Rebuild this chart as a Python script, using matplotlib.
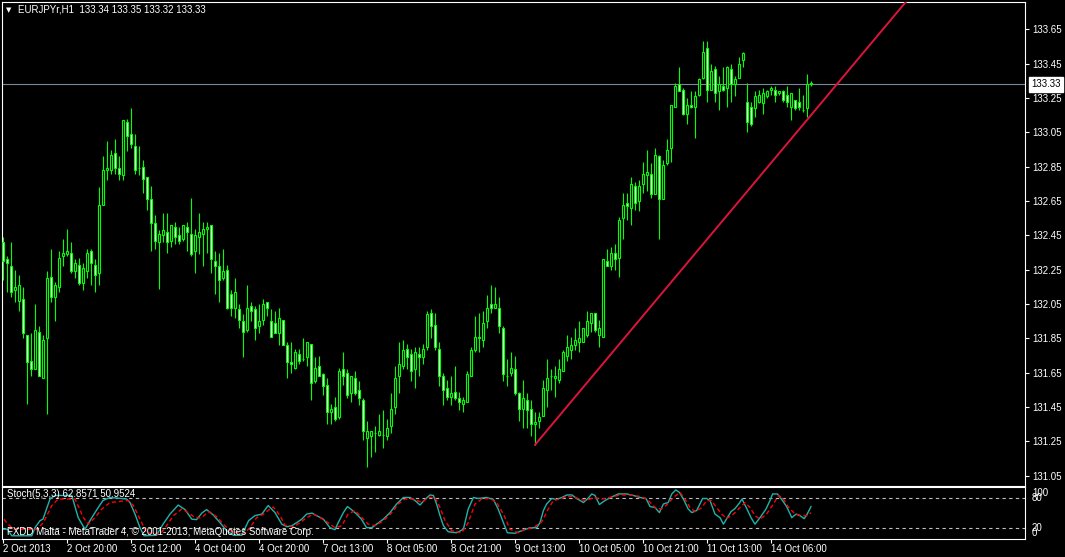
import matplotlib
matplotlib.use("Agg")
import matplotlib.pyplot as plt

plt.rcParams["font.family"] = ["Liberation Sans", "DejaVu Sans"]

# EURJPY H1 candles, 2 Oct 2013 -> 14 Oct 2013 (one row of 10 bars per line)
opens = [
    132.41, 132.31, 132.27, 132.13, 132.07, 132.08, 131.87, 131.72, 131.67, 131.89,
    131.62, 131.85, 132.21, 132.09, 132.15, 132.33, 132.34, 132.35, 132.24, 132.28,
    132.17, 132.24, 132.36, 132.28, 132.23, 132.63, 132.83, 132.83, 132.93, 132.84,
    132.80, 133.11, 133.04, 132.97, 132.84, 132.85, 132.79, 132.66, 132.52, 132.41,
    132.45, 132.47, 132.42, 132.50, 132.45, 132.43, 132.50, 132.46, 132.36, 132.44,
    132.46, 132.49, 132.51, 132.30, 132.27, 132.20, 132.25, 132.11, 132.03, 132.02,
    131.95, 131.90, 132.04, 132.02, 131.92, 131.96, 132.06, 131.95, 131.94, 131.88,
    131.96, 131.81, 131.71, 131.68, 131.76, 131.73, 131.74, 131.82, 131.60, 131.69,
    131.64, 131.58, 131.42, 131.45, 131.39, 131.67, 131.65, 131.53, 131.62, 131.55,
    131.49, 131.27, 131.28, 131.30, 131.29, 131.29, 131.28, 131.34, 131.45, 131.63,
    131.69, 131.79, 131.76, 131.67, 131.76, 131.74, 131.80, 132.00, 131.93, 131.79,
    131.63, 131.56, 131.51, 131.54, 131.50, 131.47, 131.48, 131.63, 131.78, 131.86,
    131.84, 131.95, 132.05, 132.03, 132.03, 131.91, 131.63, 131.65, 131.67, 131.53,
    131.44, 131.49, 131.44, 131.35, 131.37, 131.40, 131.55, 131.63, 131.62, 131.61,
    131.66, 131.75, 131.78, 131.81, 131.83, 131.83, 131.87, 131.94, 132.00, 131.87,
    131.86, 132.30, 132.27, 132.35, 132.32, 132.55, 132.64, 132.61, 132.74, 132.65,
    132.75, 132.80, 132.81, 132.69, 132.91, 132.66, 132.87, 132.96, 133.20, 133.33,
    133.30, 133.16, 133.21, 133.20, 133.27, 133.37, 133.54, 133.30, 133.42, 133.29,
    133.32, 133.31, 133.42, 133.33, 133.37, 133.47, 133.23, 133.20, 133.19, 133.23,
    133.22, 133.26, 133.30, 133.30, 133.28, 133.29, 133.27, 133.20, 133.24, 133.23,
    133.18, 133.19, 133.34,
]
highs = [
    132.44, 132.33, 132.41, 132.25, 132.22, 132.15, 131.87, 131.88, 132.05, 131.92,
    131.87, 132.24, 132.37, 132.18, 132.36, 132.43, 132.49, 132.41, 132.31, 132.32,
    132.29, 132.37, 132.37, 132.31, 132.73, 132.91, 133.00, 132.95, 133.01, 132.91,
    133.12, 133.13, 133.19, 133.04, 132.97, 132.89, 132.79, 132.74, 132.57, 132.48,
    132.58, 132.58, 132.51, 132.53, 132.50, 132.51, 132.53, 132.67, 132.49, 132.58,
    132.53, 132.53, 132.51, 132.36, 132.35, 132.37, 132.28, 132.13, 132.20, 132.05,
    131.99, 132.16, 132.06, 132.04, 132.05, 132.08, 132.06, 132.02, 132.01, 132.03,
    131.96, 131.83, 131.83, 131.79, 131.79, 131.85, 131.83, 131.82, 131.74, 131.75,
    131.65, 131.62, 131.47, 131.51, 131.68, 131.77, 131.67, 131.63, 131.66, 131.60,
    131.50, 131.37, 131.31, 131.34, 131.41, 131.43, 131.38, 131.53, 131.69, 131.83,
    131.84, 131.82, 131.79, 131.80, 131.80, 131.82, 132.01, 132.02, 132.00, 131.83,
    131.65, 131.61, 131.63, 131.69, 131.54, 131.51, 131.66, 131.80, 131.98, 132.00,
    132.01, 132.10, 132.16, 132.15, 132.09, 131.92, 131.73, 131.77, 131.75, 131.54,
    131.61, 131.53, 131.49, 131.42, 131.42, 131.61, 131.73, 131.67, 131.69, 131.73,
    131.78, 131.87, 131.86, 131.91, 131.95, 131.91, 132.01, 132.00, 132.00, 131.96,
    132.31, 132.37, 132.38, 132.40, 132.56, 132.70, 132.70, 132.79, 132.76, 132.77,
    132.88, 132.95, 132.87, 132.96, 132.92, 132.89, 133.01, 133.21, 133.34, 133.43,
    133.31, 133.25, 133.29, 133.29, 133.37, 133.58, 133.58, 133.45, 133.44, 133.38,
    133.43, 133.44, 133.45, 133.38, 133.49, 133.52, 133.34, 133.23, 133.29, 133.30,
    133.31, 133.30, 133.32, 133.32, 133.29, 133.30, 133.32, 133.28, 133.24, 133.31,
    133.27, 133.39, 133.35,
]
lows = [
    132.19, 132.12, 132.09, 132.06, 132.01, 131.85, 131.47, 131.63, 131.67, 131.63,
    131.62, 131.41, 132.06, 131.95, 132.12, 132.27, 132.33, 132.23, 132.20, 132.16,
    132.13, 132.20, 132.16, 132.12, 132.16, 132.63, 132.77, 132.81, 132.81, 132.77,
    132.77, 132.94, 132.96, 132.81, 132.80, 132.70, 132.60, 132.36, 132.37, 132.14,
    132.41, 132.35, 132.38, 132.40, 132.40, 132.42, 132.36, 132.33, 132.23, 132.34,
    132.27, 132.35, 132.23, 132.11, 132.06, 132.19, 132.02, 131.98, 131.97, 131.91,
    131.74, 131.89, 131.95, 131.84, 131.88, 131.93, 131.98, 131.86, 131.88, 131.81,
    131.81, 131.62, 131.65, 131.67, 131.70, 131.72, 131.69, 131.49, 131.59, 131.63,
    131.52, 131.35, 131.35, 131.37, 131.38, 131.58, 131.50, 131.48, 131.52, 131.46,
    131.26, 131.10, 131.16, 131.19, 131.28, 131.21, 131.26, 131.30, 131.41, 131.53,
    131.67, 131.67, 131.60, 131.56, 131.63, 131.70, 131.78, 131.85, 131.78, 131.57,
    131.46, 131.49, 131.46, 131.49, 131.43, 131.42, 131.48, 131.63, 131.77, 131.77,
    131.80, 131.91, 132.00, 132.03, 131.88, 131.60, 131.57, 131.63, 131.52, 131.37,
    131.33, 131.33, 131.28, 131.23, 131.33, 131.40, 131.45, 131.55, 131.51, 131.59,
    131.66, 131.72, 131.73, 131.78, 131.77, 131.83, 131.86, 131.89, 131.89, 131.80,
    131.86, 132.27, 132.25, 132.25, 132.21, 132.43, 132.54, 132.51, 132.60, 132.59,
    132.70, 132.71, 132.67, 132.69, 132.43, 132.66, 132.86, 132.88, 133.20, 133.29,
    133.15, 133.10, 133.19, 133.02, 133.26, 133.36, 133.23, 133.30, 133.23, 133.18,
    133.29, 133.20, 133.23, 133.26, 133.37, 133.43, 133.05, 133.09, 133.14, 133.22,
    133.16, 133.25, 133.27, 133.23, 133.27, 133.23, 133.20, 133.12, 133.18, 133.18,
    133.17, 133.14, 133.32,
]
closes = [
    132.30, 132.29, 132.12, 132.15, 132.16, 131.88, 131.71, 131.67, 131.90, 131.63,
    131.84, 132.20, 132.09, 132.16, 132.32, 132.35, 132.36, 132.24, 132.29, 132.17,
    132.26, 132.35, 132.29, 132.22, 132.63, 132.83, 132.84, 132.92, 132.84, 132.81,
    133.12, 133.03, 132.98, 132.83, 132.84, 132.78, 132.66, 132.52, 132.42, 132.46,
    132.48, 132.41, 132.51, 132.44, 132.42, 132.51, 132.47, 132.34, 132.45, 132.47,
    132.49, 132.50, 132.31, 132.27, 132.19, 132.24, 132.03, 132.03, 132.12, 131.96,
    131.89, 132.03, 132.01, 131.91, 131.95, 132.05, 132.03, 131.86, 131.88, 131.97,
    131.81, 131.71, 131.70, 131.77, 131.72, 131.73, 131.83, 131.59, 131.68, 131.63,
    131.57, 131.42, 131.44, 131.38, 131.66, 131.63, 131.52, 131.63, 131.53, 131.50,
    131.31, 131.31, 131.31, 131.30, 131.31, 131.29, 131.33, 131.44, 131.62, 131.70,
    131.78, 131.74, 131.66, 131.77, 131.74, 131.79, 131.99, 131.92, 131.80, 131.63,
    131.55, 131.51, 131.53, 131.50, 131.48, 131.49, 131.64, 131.78, 131.86, 131.85,
    131.94, 132.03, 132.03, 132.05, 131.92, 131.64, 131.63, 131.68, 131.53, 131.44,
    131.50, 131.43, 131.35, 131.36, 131.39, 131.56, 131.62, 131.63, 131.63, 131.67,
    131.77, 131.80, 131.81, 131.84, 131.85, 131.91, 131.95, 132.00, 131.90, 131.91,
    132.31, 132.27, 132.35, 132.31, 132.54, 132.63, 132.62, 132.75, 132.64, 132.74,
    132.81, 132.82, 132.69, 132.92, 132.66, 132.86, 132.95, 133.21, 133.32, 133.29,
    133.16, 133.21, 133.20, 133.26, 133.36, 133.52, 133.30, 133.41, 133.28, 133.33,
    133.30, 133.43, 133.33, 133.36, 133.45, 133.51, 133.11, 133.10, 133.26, 133.27,
    133.28, 133.29, 133.31, 133.27, 133.29, 133.24, 133.23, 133.28, 133.19, 133.20,
    133.18, 133.33, 133.33,
]

bid = 133.33
price_ticks = [131.05, 131.25, 131.45, 131.65, 131.85, 132.05, 132.25,
               132.45, 132.65, 132.85, 133.05, 133.25, 133.45, 133.65]

# trend line drawn through the 9 Oct low, extends past the right edge
trend_x = [133, 230]
trend_y = [131.23, 133.93]

time_tick_bars = [0, 16, 32, 48, 64, 80, 96, 112, 128, 144, 160, 176, 192]
time_tick_labels = ["2 Oct 2013", "2 Oct 20:00", "3 Oct 12:00", "4 Oct 04:00",
                    "4 Oct 20:00", "7 Oct 13:00", "8 Oct 05:00", "8 Oct 21:00",
                    "9 Oct 13:00", "10 Oct 05:00", "10 Oct 21:00", "11 Oct 13:00",
                    "14 Oct 06:00"]

# Stoch(5,3,3), vertices
stoch_main_x = [-0.75, 1.1, 2.2, 7.2, 8, 9.25, 10, 11.75, 13, 14.25, 17.2, 18.8, 20.5,
                22.2, 23.8, 25, 26.75, 30.9, 31.75, 33, 34.25, 35.25, 38.4, 40, 41.75,
                43.8, 45.5, 47.2, 48.4, 49.7, 50.9, 52.6, 54.25, 55.9, 57.6, 59.7, 61.4,
                63, 64.7, 66.3, 68, 69.7, 71, 72.2, 73.4, 74.7, 75.9, 77.25, 78.4, 80.1,
                81.75, 83, 83.8, 85.1, 86.1, 87.1, 88.4, 89.6, 90.9, 92.2, 93.4, 95.1,
                96.75, 98.4, 100.1, 101.75, 103, 104.25, 105.5, 106.75, 107.6, 108.4,
                109.25, 110.1, 111.3, 113.4, 115.1, 116.3, 117.6, 118.8, 120.9, 122.6,
                123.8, 125.1, 126.1, 128, 129.7, 131.75, 133.4, 134.25, 135.1, 135.9,
                137.2, 138.4, 139.7, 141, 142.25, 143.4, 145.1, 146.1, 147.2, 148, 149.1,
                150.5, 151.9, 153.8, 155.9, 157.6, 159.25, 160.75, 161.75, 163, 164.1,
                165.1, 166.3, 167.2, 168.2, 169.1, 170.1, 171.3, 172.2, 173.4, 174.9,
                175.9, 176.75, 178, 179.25, 180.1, 181.1, 182, 183, 184.1, 184.75, 186,
                187, 188, 189.25, 190.75, 191.75, 192.4, 193.6, 194.6, 195.9, 197.2,
                198.25, 199.25, 200.3, 200.9, 202]
stoch_main = [18, 18, 5, 5, 21, 35, 38, 78, 85, 85, 85, 41, 18,
              41, 61, 75, 81, 78, 71, 48, 21, 5, 6, 28, 48,
              66, 57, 38, 37, 50, 57, 46, 31, 15, 6, 6, 35,
              45, 48, 65, 51, 28, 23, 25, 31, 38, 48, 50, 45, 38,
              21, 17, 31, 51, 63, 57, 48, 38, 21, 21, 28, 38,
              51, 68, 81, 81, 75, 66, 77, 86, 85, 68,
              45, 25, 13, 11, 18, 58, 81, 79, 81, 77,
              58, 31, 11, 10, 15, 21, 21, 31, 55, 68,
              79, 77, 81, 86, 86, 79, 71, 78, 88, 85, 67,
              75, 81, 88, 88, 85, 81, 79, 63, 61, 51,
              68, 71, 88, 96, 91, 78, 58, 51, 55, 79,
              79, 75, 48, 41, 28, 41, 53, 59, 70, 78, 58,
              41, 28, 41, 58, 75, 88, 88, 78, 63, 41,
              48, 45, 39, 46, 62.8571]

stoch_sig_x = [-0.75, 0.9, 2.6, 8.4, 10.1, 12.2, 13.8, 18, 20.1, 21.3, 23, 24.7, 26.75,
               31.3, 32.6, 34.25, 35.9, 39.25, 40.9, 42.6, 44.7, 46.3, 48, 49.7, 51.3,
               53.4, 55.1, 56.75, 60.1, 61.75, 63.4, 65.1, 66.75, 67.6, 69.25, 70.5,
               72.6, 74.25, 75.9, 77.6, 79.25, 80.9, 83, 84.7, 86.3, 88, 89.7, 91.3, 93,
               95.1, 97.2, 98.8, 100.5, 102.6, 104.7, 106.3, 108, 109.25, 110.5, 112.2,
               114.7, 116.3, 118, 119.7, 121.75, 123.4, 125.1, 126.75, 128.8, 130.5,
               132.6, 134.7, 136.3, 137.6, 139.25, 140.9, 142.6, 144.25, 145.9, 147.6,
               149.7, 151.75, 154.25, 156.75, 159.25, 160.9, 162.2, 163.4, 164.7, 165.9,
               167.6, 169.25, 170.5, 171.75, 173, 174.7, 175.9, 177.1, 178.4, 179.7,
               180.9, 182.6, 184.25, 185.5, 186.75, 188, 189.25, 190.9, 192.6, 193.9,
               195.1, 196.4, 198.1, 199.75, 201, 202]
stoch_sig = [49, 31, 18, 18, 31, 65, 78, 78, 41, 28, 41, 58, 71,
             75, 65, 38, 11, 8, 25, 45, 58, 51, 41, 41, 53,
             43, 28, 15, 8, 21, 41, 48, 58, 62, 45, 26,
             23, 31, 41, 48, 41, 33, 21, 25, 48, 55, 41, 28, 25,
             35, 51, 68, 78, 78, 71, 81, 81, 61, 35, 15,
             11, 31, 68, 78, 79, 71, 48, 18, 11, 18,
             21, 33, 58, 75, 78, 83, 83, 77, 75, 81,
             78, 81, 86, 86, 83, 78, 68, 58, 59, 66,
             81, 91, 78, 61, 53, 61, 75, 75, 61, 48,
             39, 48, 61, 71, 61, 45, 38, 48, 68, 85,
             78, 61, 48, 45, 45, 50.9524]

GREEN = "#00FF00"
FS = 7
W, H = 1065, 557

fig = plt.figure(figsize=(W / 100, H / 100), dpi=100, facecolor="black")
ax = fig.add_axes([2 / W, 1 - 486 / H, 1023 / W, 484 / H], facecolor="black")
axs = fig.add_axes([2 / W, 1 - 538.7 / H, 1023 / W, 51.4 / H], facecolor="black")

for a in (ax, axs):
    for sp in a.spines.values():
        sp.set_color("white")
        sp.set_linewidth(0.8)
    a.set_xlim(-0.25, 255.5)

# candles: bull bodies black, bear bodies white, green outline
xs = list(range(len(closes)))
ax.vlines(xs, lows, highs, color=GREEN, linewidth=0.8, zorder=2)
bottoms = [min(o, c) for o, c in zip(opens, closes)]
heights = [abs(c - o) for o, c in zip(opens, closes)]
fills = ["white" if c < o else "black" for o, c in zip(opens, closes)]
ax.bar(xs, heights, bottom=bottoms, width=0.5, color=fills, edgecolor=GREEN,
       linewidth=0.8, zorder=3)

ax.axhline(bid, color="#778899", linewidth=0.8, zorder=1)
ax.plot(trend_x, trend_y, color="#DC143C", linewidth=1.4, zorder=4)

ax.set_ylim(130.99, 133.81)
ax.yaxis.tick_right()
ax.set_yticks(price_ticks)
ax.set_yticklabels([f"{t:.2f}" for t in price_ticks])
ax.set_xticks([])
ax.tick_params(axis="y", colors="white", labelsize=FS, length=3, width=0.8, pad=2)

ax.text(1.0059, bid, f"{bid:.2f}", transform=ax.get_yaxis_transform(), ha="left",
        va="center", fontsize=FS, color="black",
        bbox=dict(boxstyle="square,pad=0.25", facecolor="white", edgecolor="white"))

fig.text(6 / W, 1 - 10 / H, "\u25bc", color="white", fontsize=5, va="center",
         family="DejaVu Sans")
fig.text(18 / W, 1 - 10 / H, "EURJPYr,H1  133.34 133.35 133.32 133.33", color="white",
         fontsize=FS, va="center")

# stochastic panel
axs.set_ylim(-0.8, 101.2)
for lvl in (20, 80):
    axs.axhline(lvl, color="#C0C0C0", linewidth=0.8, linestyle=(0, (3, 3)))
axs.plot(stoch_main_x, stoch_main, color="#20B2AA", linewidth=1.0)
axs.plot(stoch_sig_x, stoch_sig, color="red", linewidth=1.0, linestyle=(0, (3, 2)))

axs.yaxis.tick_right()
axs.set_yticks([0, 20, 80, 100])
axs.set_yticklabels(["0", "20", "80", "100"])
axs.tick_params(axis="y", colors="white", labelsize=FS, length=0, pad=5)
for lbl, va in zip(axs.get_yticklabels(), ["bottom", "center", "center", "top"]):
    lbl.set_verticalalignment(va)
axs.set_xticks(time_tick_bars)
axs.set_xticklabels(time_tick_labels)
axs.tick_params(axis="x", colors="white", labelsize=FS, length=3, width=0.8, pad=1)
for lbl in axs.get_xticklabels():
    lbl.set_horizontalalignment("left")

axs.text(0.005, 0.86, "Stoch(5,3,3) 62.8571 50.9524", transform=axs.transAxes,
         color="white", fontsize=FS, va="center")
axs.text(0.005, 0.14, "FXDD Malta - MetaTrader 4, \u00a9 2001-2013, MetaQuotes Software Corp.",
         transform=axs.transAxes, color="white", fontsize=FS, va="center")

fig.savefig("out.png", dpi=100, facecolor="black")
